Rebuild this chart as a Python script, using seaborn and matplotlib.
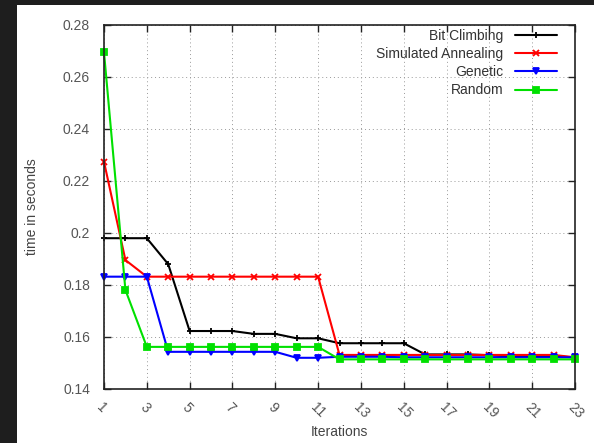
import pandas as pd
import seaborn as sns
import matplotlib.pyplot as plt
from matplotlib.patches import Rectangle
from matplotlib.ticker import FormatStrFormatter

sns.set_style("ticks")
plt.rcParams["font.family"] = ["Liberation Sans", "DejaVu Sans"]

iterations = list(range(1, 24))
bit_climbing = [0.198, 0.198, 0.198, 0.188, 0.1623, 0.1623, 0.1623, 0.1612, 0.1612,
                0.1595, 0.1595, 0.1576, 0.1576, 0.1576, 0.1576, 0.1533, 0.1533, 0.1533,
                0.1530, 0.1525, 0.1525, 0.1525, 0.1522]
simulated_annealing = [0.2274, 0.1896, 0.1832, 0.1832, 0.1832, 0.1832, 0.1832, 0.1832,
                       0.1832, 0.1832, 0.1832, 0.1531, 0.1531, 0.1531, 0.1531, 0.1531,
                       0.1531, 0.1531, 0.1531, 0.1531, 0.1531, 0.1531, 0.1522]
genetic = [0.1832, 0.1832, 0.1832, 0.1543, 0.1543, 0.1543, 0.1543, 0.1543, 0.1543,
           0.1520, 0.1520, 0.1524, 0.1524, 0.1524, 0.1522, 0.1522, 0.1522, 0.1522,
           0.1522, 0.1522, 0.1522, 0.1522, 0.1522]
random_search = [0.2695, 0.1781, 0.1562, 0.1562, 0.1562, 0.1562, 0.1562, 0.1562, 0.1562,
                 0.1562, 0.1562, 0.1514, 0.1514, 0.1514, 0.1514, 0.1514, 0.1514, 0.1514,
                 0.1514, 0.1514, 0.1514, 0.1514, 0.1514]

series = {
    "Bit Climbing": (bit_climbing, "black", "+"),
    "Simulated Annealing": (simulated_annealing, "#ff0000", "x"),
    "Genetic": (genetic, "#0000ff", "v"),
    "Random": (random_search, "#00e000", "s"),
}

fig = plt.figure(figsize=(5.94, 4.43), dpi=100, facecolor="#1e1e1e")
fig.patches.append(Rectangle((17 / 594, 0), 1, 1 - 5 / 443, transform=fig.transFigure,
                             facecolor="white", edgecolor="none", zorder=-10))
ax = fig.add_axes([104 / 594, 1 - 389 / 443, 471 / 594, 364 / 443])
ax.set_zorder(1)

for name, (vals, color, marker) in series.items():
    df = pd.DataFrame({"iter": iterations, "time": vals})
    sns.lineplot(data=df, x="iter", y="time", ax=ax, color=color, marker=marker,
                 markersize=5, markeredgewidth=1.3, markeredgecolor=color,
                 linewidth=1.5, label=name, clip_on=False)

ax.set_xlim(1, 23)
ax.set_ylim(0.14, 0.28)
ax.set_xticks(range(1, 24, 2))
ax.set_yticks([0.14, 0.16, 0.18, 0.2, 0.22, 0.24, 0.26, 0.28])
ax.yaxis.set_major_formatter(FormatStrFormatter("%g"))
ax.grid(True, linestyle=(0, (1, 3)), color="#999999", linewidth=0.7)
for s in ax.spines.values():
    s.set_visible(True)
    s.set_color("#222222")
    s.set_linewidth(1.2)
ax.tick_params(direction="in", top=True, right=True, length=5, width=1,
               labelsize=10, labelcolor="#555555", color="#222222")
ax.tick_params(axis="y", pad=10)
ax.tick_params(axis="x", pad=8)
for lbl in ax.get_xticklabels():
    lbl.set_rotation(-45)
    lbl.set_ha("left")
    lbl.set_va("top")
    lbl.set_rotation_mode("anchor")

ax.set_xlabel("Iterations", fontsize=10, color="#444444", labelpad=3)
ax.set_ylabel("time in seconds", fontsize=10, color="#444444", labelpad=17)

leg = ax.legend(loc="upper right", bbox_to_anchor=(453 / 471, 1 - 4 / 364),
                frameon=False, markerfirst=False, fontsize=10, borderpad=0,
                borderaxespad=0, handlelength=3.0,
                labelspacing=0.3, handletextpad=0.85)
for t in leg.get_texts():
    t.set_color("#333333")

fig.savefig("out.png", dpi=100, facecolor=fig.get_facecolor())
